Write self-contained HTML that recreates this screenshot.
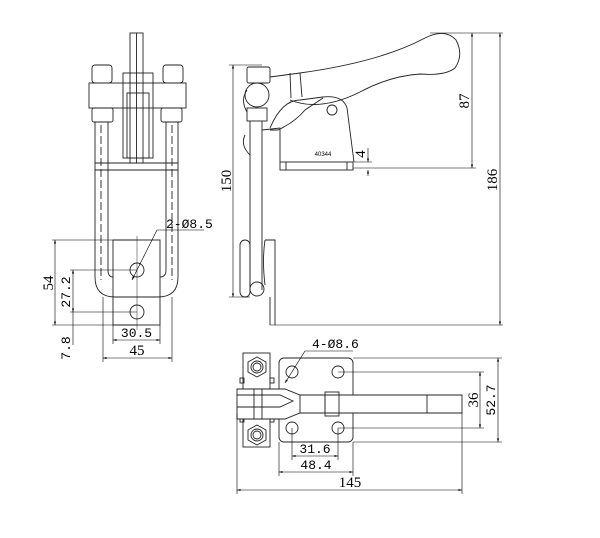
<!DOCTYPE html>
<html><head><meta charset="utf-8"><style>
html,body{margin:0;padding:0;background:#fff;width:600px;height:538px;overflow:hidden}
svg{display:block}
text{font-family:"Liberation Mono",monospace;font-size:13px;fill:#000}
.s{font-family:"Liberation Serif",serif;font-size:15px}
</style></head><body>
<svg width="600" height="538" viewBox="0 0 600 538" xmlns="http://www.w3.org/2000/svg">
<defs>
<marker id="a" viewBox="0 0 10 10" refX="10" refY="5" markerWidth="6" markerHeight="6" orient="auto-start-reverse"><path d="M0,2 L10,5 L0,8z" fill="#000"/></marker>
</defs>
<g fill="none" stroke="#222" stroke-width="0.9">
<!-- FRONT VIEW -->
<rect x="130" y="33" width="13" height="130"/>
<line x1="136.5" y1="33" x2="136.5" y2="163"/>
<rect x="92" y="65" width="20" height="18" rx="3"/>
<rect x="163" y="65" width="20" height="18" rx="3"/>
<rect x="89" y="83" width="97" height="25"/>
<rect x="92" y="108" width="21" height="14" rx="2"/>
<rect x="161" y="108" width="21" height="14" rx="2"/>
<rect x="123" y="73" width="30" height="85"/>
<rect x="127" y="93" width="22" height="65"/>
<line x1="95" y1="163" x2="178" y2="163"/><line x1="95" y1="170" x2="178" y2="170"/>
<path d="M95,122 V277 Q95,297 115,297 H158 Q178,297 178,277 V122"/>
<path d="M108,122 V270 Q108,277 113,277"/>
<path d="M166,122 V270 Q166,277 160,277"/>
<line x1="101" y1="125" x2="101" y2="280" stroke-dasharray="8,3"/>
<line x1="172" y1="125" x2="172" y2="280" stroke-dasharray="8,3"/>
<rect x="113" y="240" width="47" height="85"/>
<circle cx="137" cy="270" r="7"/><circle cx="137" cy="312" r="7"/>
<line x1="137" y1="236" x2="137" y2="330" stroke-width="0.5"/>
<!-- front dims -->
<g stroke="#000" stroke-width="0.6">
<line x1="52" y1="240" x2="137" y2="240"/>
<line x1="52" y1="325" x2="137" y2="325"/>
<line x1="70" y1="270" x2="137" y2="270"/>
<line x1="70" y1="312" x2="137" y2="312"/>
<line x1="55" y1="240" x2="55" y2="325" marker-start="url(#a)" marker-end="url(#a)"/>
<line x1="73" y1="270" x2="73" y2="312" marker-start="url(#a)" marker-end="url(#a)"/>
<line x1="73" y1="312" x2="73" y2="345"/>
<line x1="113" y1="325" x2="113" y2="344"/><line x1="160" y1="325" x2="160" y2="344"/>
<line x1="113" y1="340" x2="160" y2="340" marker-start="url(#a)" marker-end="url(#a)"/>
<line x1="103" y1="297" x2="103" y2="362"/><line x1="172" y1="297" x2="172" y2="362"/>
<line x1="103" y1="358" x2="172" y2="358" marker-start="url(#a)" marker-end="url(#a)"/>
<line x1="157" y1="230" x2="132" y2="280" marker-end="url(#a)"/>
<line x1="157" y1="230" x2="204" y2="230"/>
</g>
<!-- SIDE VIEW -->
<path d="M270,77 L300,73 Q380,62 425,38 Q445,28 456,40 Q464,55 455,68 Q445,76 420,74 Q390,76 360,92 Q320,112 290,100"/>
<line x1="290" y1="73" x2="291" y2="98"/><line x1="300" y1="73" x2="302" y2="97"/>
<path d="M270,128 Q282,100 300,100 L323,97 Q343,95 347,108 L354,162"/>
<path d="M270,130 L278,130 Q295,122 305,110 L323,98"/>
<rect x="280" y="162" width="73" height="8"/>
<line x1="286" y1="162" x2="286" y2="170"/><line x1="347" y1="162" x2="347" y2="170"/>
<circle cx="332" cy="110" r="5"/>
<path d="M262,130 L280,128 L280,162"/>
<rect x="247" y="67" width="23" height="16" rx="2"/>
<circle cx="257" cy="95" r="12"/>
<path d="M247,90 Q240,100 247,112"/>
<path d="M245,135 Q240,145 250,155"/>
<rect x="247" y="108" width="20" height="13"/>
<line x1="250" y1="121" x2="250" y2="290"/><line x1="262" y1="121" x2="262" y2="290"/>
<rect x="240" y="240" width="10" height="57" rx="5"/>
<path d="M265,240 H275 V297"/>
<path d="M265,240 Q262,260 265,285"/>
<circle cx="257" cy="289" r="7"/>
<line x1="270" y1="297" x2="270" y2="325"/>
<line x1="275" y1="297" x2="275" y2="325"/>
<!-- side dims -->
<g stroke="#000" stroke-width="0.6">
<line x1="270" y1="325" x2="503" y2="325"/>
<line x1="430" y1="33" x2="503" y2="33"/>
<line x1="353" y1="168" x2="476" y2="168"/>
<line x1="229" y1="65" x2="262" y2="65"/>
<line x1="229" y1="297" x2="250" y2="297"/>
<line x1="233" y1="65" x2="233" y2="297" marker-start="url(#a)" marker-end="url(#a)"/>
<line x1="472" y1="33" x2="472" y2="168" marker-start="url(#a)" marker-end="url(#a)"/>
<line x1="500" y1="33" x2="500" y2="325" marker-start="url(#a)" marker-end="url(#a)"/>
<line x1="368" y1="148" x2="368" y2="162" marker-end="url(#a)"/>
<line x1="368" y1="176" x2="368" y2="170" marker-end="url(#a)"/>
<line x1="354" y1="162" x2="372" y2="162"/>
</g>
<!-- PLAN VIEW -->
<rect x="243" y="353" width="27" height="94"/>
<polygon points="257,357 266,362 266,372 257,377 248,372 248,362"/>
<circle cx="257" cy="367" r="6"/><circle cx="257" cy="367" r="4"/>
<polygon points="257,425 266,430 266,440 257,445 248,440 248,430"/>
<circle cx="257" cy="435" r="6"/><circle cx="257" cy="435" r="4"/>
<rect x="240" y="378" width="4" height="5"/><rect x="270" y="378" width="4" height="5"/>
<rect x="240" y="417" width="4" height="5"/><rect x="270" y="417" width="4" height="5"/>
<rect x="279" y="358" width="74" height="84" rx="5"/>
<circle cx="292" cy="372" r="6"/><circle cx="338" cy="372" r="6"/>
<circle cx="292" cy="428" r="6"/><circle cx="338" cy="428" r="6"/>
<path d="M237,389 H285 L300,395 H462 V413 H300 L285,419 H237 Z" fill="#fff"/>
<path d="M237,395 H280 L293,401 L280,407 H237"/>
<line x1="300" y1="395" x2="300" y2="413"/>
<line x1="325" y1="395" x2="325" y2="413"/>
<rect x="325" y="392" width="14" height="24"/>
<line x1="427" y1="395" x2="427" y2="413"/>
<line x1="254" y1="389" x2="254" y2="419"/><line x1="262" y1="389" x2="262" y2="419"/>
<!-- plan dims -->
<g stroke="#000" stroke-width="0.6">
<line x1="353" y1="358" x2="502" y2="358"/>
<line x1="353" y1="442" x2="502" y2="442"/>
<line x1="338" y1="372" x2="484" y2="372"/>
<line x1="338" y1="428" x2="484" y2="428"/>
<line x1="498" y1="358" x2="498" y2="442" marker-start="url(#a)" marker-end="url(#a)"/>
<line x1="480" y1="372" x2="480" y2="428" marker-start="url(#a)" marker-end="url(#a)"/>
<line x1="292" y1="428" x2="292" y2="460"/><line x1="338" y1="428" x2="338" y2="460"/>
<line x1="292" y1="456" x2="338" y2="456" marker-start="url(#a)" marker-end="url(#a)"/>
<line x1="279" y1="442" x2="279" y2="476"/><line x1="353" y1="442" x2="353" y2="476"/>
<line x1="279" y1="472" x2="353" y2="472" marker-start="url(#a)" marker-end="url(#a)"/>
<line x1="237" y1="413" x2="237" y2="494"/><line x1="462" y1="413" x2="462" y2="494"/>
<line x1="237" y1="490" x2="462" y2="490" marker-start="url(#a)" marker-end="url(#a)"/>
<line x1="305" y1="351" x2="285" y2="383" marker-end="url(#a)"/>
<line x1="305" y1="351" x2="353" y2="351"/>
</g>
</g>
<!-- labels -->
<text x="166" y="228">2-Ø8.5</text>
<text class="s" transform="translate(53,283) rotate(-90)" text-anchor="middle">54</text>
<text transform="translate(70,292) rotate(-90)" text-anchor="middle">27.2</text>
<text transform="translate(70,348) rotate(-90)" text-anchor="middle">7.8</text>
<text x="136.5" y="337" text-anchor="middle">30.5</text>
<text class="s" x="137" y="355" text-anchor="middle">45</text>
<text class="s" transform="translate(231,181) rotate(-90)" text-anchor="middle">150</text>
<text class="s" transform="translate(469,101) rotate(-90)" text-anchor="middle">87</text>
<text class="s" transform="translate(497,180) rotate(-90)" text-anchor="middle">186</text>
<text class="s" transform="translate(365,154) rotate(-90)" text-anchor="middle">4</text>
<text x="323" y="156" text-anchor="middle" style="font-family:'Liberation Sans',sans-serif;font-size:6px">40344</text>
<text x="312" y="348">4-Ø8.6</text>
<text class="s" transform="translate(478,400) rotate(-90)" text-anchor="middle">36</text>
<text transform="translate(495,400) rotate(-90)" text-anchor="middle">52.7</text>
<text x="315" y="453" text-anchor="middle">31.6</text>
<text x="316" y="469" text-anchor="middle">48.4</text>
<text class="s" x="350" y="487" text-anchor="middle">145</text>
</svg>
</body></html>
